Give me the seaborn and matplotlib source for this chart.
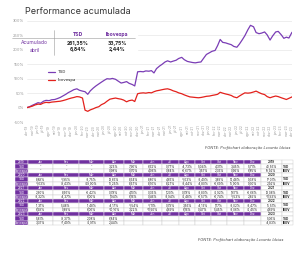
import numpy as np
import pandas as pd
import matplotlib
matplotlib.use("Agg")
import matplotlib.pyplot as plt
import seaborn as sns
from matplotlib.patches import Rectangle

# rentabilidade acumulada (%), pontos quinzenais a partir de abr-19
tsd = [0, 3, 8, 12, 17, 15, 22, 25, 24, 27, 28, 31, 35, 40, 46, 52, 57, 62,
       65, 60, 57, 55, 46, 58, 68, 75, 82, 88, 95, 100, 99, 101, 98, 92, 85, 87,
       90, 84, 80, 75, 124, 125, 124, 127, 126, 128, 120, 135, 144, 150, 158, 162, 158, 161,
       164, 170, 174, 166, 160, 158, 156, 155, 157, 158, 172, 184, 190, 195, 198, 215, 236, 226,
       224, 221, 218, 212, 209, 220, 235, 249, 270, 285, 280, 260, 256, 258, 262, 252, 234, 248,
       262, 264, 252, 240, 244, 241, 261]
ibov = [0, 2, 5, 9, 12, 11, 16, 18, 17, 19, 20, 21, 22, 24, 27, 30, 33, 35,
        38, 37, 33, -9, -13, -8, -4, 0, 3, 10, 15, 22, 29, 31, 33, 31, 29, 26,
        20, 24, 26, 21, 48, 50, 51, 50, 52, 51, 55, 58, 60, 62, 64, 65, 62, 58,
        55, 51, 48, 44, 40, 37, 36, 35, 34, 35, 37, 39, 40, 42, 44, 46, 53, 50,
        47, 45, 42, 37, 34, 40, 46, 51, 50, 51, 54, 57, 52, 48, 45, 38, 34, 37,
        40, 38, 34, 31, 28, 32, 37]

meses_eixo = ["jan", "fev", "mar", "abr", "mai", "jun", "jul", "ago", "set", "out", "nov", "dez"]
meses = ["Jan", "Fev", "Mar", "Abr", "Mai", "Jun", "Jul", "Ago", "Set", "Out", "Nov", "Dez"]
anos = ["2019", "2020", "2021", "2022", "2023"]

tsd_2019 = ["-", "-", "-", "3,25%", "7,90%", "6,62%", "0,77%", "-4,73%", "5,04%", "4,31%", "3,45%", "5,71%"]
ibov_2019 = ["-", "-", "-", "0,98%", "0,70%", "4,06%", "0,84%", "-0,67%", "3,57%", "2,36%", "0,95%", "6,85%"]
tsd_2020 = ["8,88%", "-1,95%", "-3,75%", "13,66%", "8,64%", "8,80%", "4,66%", "-1,03%", "-3,49%", "3,89%", "14,48%", "9,38%"]
ibov_2020 = ["-1,63%", "-8,43%", "-29,90%", "10,25%", "8,57%", "8,76%", "8,27%", "-3,44%", "-4,80%", "-0,69%", "15,90%", "9,30%"]
tsd_2021 = ["2,60%", "8,56%", "-0,42%", "0,78%", "4,10%", "0,35%", "1,20%", "0,78%", "-3,80%", "-2,92%", "1,67%", "-0,66%"]
ibov_2021 = ["-3,32%", "-4,37%", "6,00%", "1,94%", "6,16%", "0,46%", "-3,94%", "-2,48%", "-6,57%", "-6,74%", "-1,53%", "2,85%"]
tsd_2022 = ["11,31%", "5,48%", "11,48%", "-4,17%", "-1,54%", "-1,11%", "0,79%", "3,56%", "-4,13%", "1,17%", "-3,02%", "-3,47%"]
ibov_2022 = ["6,98%", "0,89%", "6,06%", "-10,10%", "3,22%", "-11,50%", "4,69%", "6,16%", "0,47%", "5,45%", "-3,06%", "-2,45%"]
tsd_2023 = ["5,81%", "-8,37%", "2,08%", "6,84%", "", "", "", "", "", "", "", ""]
ibov_2023 = ["3,37%", "-7,49%", "-2,91%", "2,44%", "", "", "", "", "", "", "", ""]
tsd_anual = ["40,56%", "17,01%", "13,08%", "15,51%", "5,06%"]
ibov_anual = ["19,92%", "2,92%", "-11,93%", "4,69%", "-4,83%"]

roxo = "#7030a0"
linha_roxa = "#7a3db5"
vermelho = "#e3211c"
cinza = "#999999"

sns.set_theme(style="white")
plt.rcParams["font.family"] = ["Inter", "DejaVu Sans"]

fig = plt.figure(figsize=(3.0, 2.57), dpi=100)
ax = fig.add_axes([27 / 300, 1 - 122 / 257, 265 / 300, 101 / 257])

datas = pd.date_range("2019-04-01", periods=len(tsd), freq="SMS")
df = pd.DataFrame({
    "data": list(datas) + list(datas),
    "valor": tsd + ibov,
    "serie": ["TSD"] * len(tsd) + ["Ibovespa"] * len(ibov),
})
sns.lineplot(data=df, x="data", y="valor", hue="serie",
             palette={"TSD": linha_roxa, "Ibovespa": vermelho},
             linewidth=0.9, ax=ax)

ax.set_xlim(datas[0], datas[-1])
ax.set_ylim(-50, 300)
ax.set_yticks(range(-50, 301, 50))
ax.set_yticklabels([f"{v}%" for v in range(-50, 301, 50)], fontsize=2.8, color=cinza)
ticks = pd.date_range("2019-04-01", "2023-04-01", freq="MS")
ax.set_xticks(ticks)
ax.set_xticklabels([f"{meses_eixo[d.month - 1]}-{d.strftime('%y')}" for d in ticks],
                   rotation=90, fontsize=2.4, color=cinza)
ax.tick_params(length=0, pad=2)
ax.set_xlabel("")
ax.set_ylabel("")
ax.yaxis.grid(True, color="#e8e8e8", lw=0.5)
ax.xaxis.grid(False)
for s in ax.spines.values():
    s.set_visible(False)
ax.legend(title=None, loc="upper left", bbox_to_anchor=(0.065, 0.55), fontsize=3,
          frameon=False, handlelength=1.8, handletextpad=0.6, labelspacing=1.0)

# camada para textos e tabelas em coordenadas de pixel
ov = fig.add_axes([0, 0, 1, 1], zorder=5)
ov.set_xlim(0, 300)
ov.set_ylim(257, 0)
ov.axis("off")
ov.patch.set_alpha(0)

ov.text(25, 12, "Performance acumulada", fontsize=6.5, color="#333333", va="center")

ov.add_patch(Rectangle((24, 27), 113, 29, color="white", zorder=1))
ov.plot([12, 135], [38, 38], color="#9a9a9a", lw=0.4, zorder=2)
ov.plot([54, 54], [30, 55], color="#9a9a9a", lw=0.4, zorder=2)
ov.text(78, 34.5, "TSD", fontsize=3.6, color=roxo, weight="bold", ha="center", va="center", zorder=3)
ov.text(117, 34.5, "Ibovespa", fontsize=3.6, color=roxo, weight="bold", ha="center", va="center", zorder=3)
ov.text(34, 43, "Acumulado", fontsize=3.6, color=roxo, ha="center", va="center", zorder=3)
ov.text(35, 50, "abril", fontsize=3.6, color=roxo, ha="center", va="center", zorder=3)
ov.text(78, 43, "261,35%", fontsize=3.6, color="#222222", weight="bold", ha="center", va="center", zorder=3)
ov.text(117, 43, "33,75%", fontsize=3.6, color="#222222", weight="bold", ha="center", va="center", zorder=3)
ov.text(78, 50, "6,84%", fontsize=3.6, color="#222222", weight="bold", ha="center", va="center", zorder=3)
ov.text(117, 50, "2,44%", fontsize=3.6, color="#222222", weight="bold", ha="center", va="center", zorder=3)

ov.text(290, 148, "FONTE: Profitchart elaboração Levante Ideias", fontsize=2.8,
        style="italic", color="#444444", ha="right", va="center")
ov.text(283, 240, "FONTE: Profitchart elaboração Levante Ideias", fontsize=2.8,
        style="italic", color="#444444", ha="right", va="center")

# tabela mensal
tsd_meses = [tsd_2019, tsd_2020, tsd_2021, tsd_2022, tsd_2023]
ibov_meses = [ibov_2019, ibov_2020, ibov_2021, ibov_2022, ibov_2023]
linhas = []
for i, ano in enumerate(anos):
    linhas.append([ano] + meses + [ano, ""])
    linhas.append(["TSD"] + tsd_meses[i] + [tsd_anual[i], "TSD"])
    linhas.append(["Ibovespa"] + ibov_meses[i] + [ibov_anual[i], "IBOV"])
larguras = [13, 25, 26, 25, 20, 19, 19, 17, 16, 16, 16, 17, 17, 21, 11]
tab = ov.table(cellText=linhas, colWidths=larguras, cellLoc="center",
               bbox=[15 / 300, 1 - 225 / 257, 278 / 300, 65 / 257])
tab.auto_set_font_size(False)
tab.set_fontsize(2.2)
for (r, c), cell in tab.get_celld().items():
    cell.set_linewidth(0.3)
    cabecalho = r % 3 == 0
    if (cabecalho and c <= 12) or c == 0:
        cell.set_facecolor(roxo)
        cell.set_edgecolor("white")
        cell.get_text().set_color("white")
    else:
        cell.set_facecolor("white")
        cell.set_edgecolor("#c8c8c8")
        cell.get_text().set_color("#222222")
    if cabecalho and c == 13:
        cell.get_text().set_weight("bold")
    if c == 14:
        cell.get_text().set_ha("left")
        cell.get_text().set_weight("bold")

fig.savefig("out.png", dpi=100)
